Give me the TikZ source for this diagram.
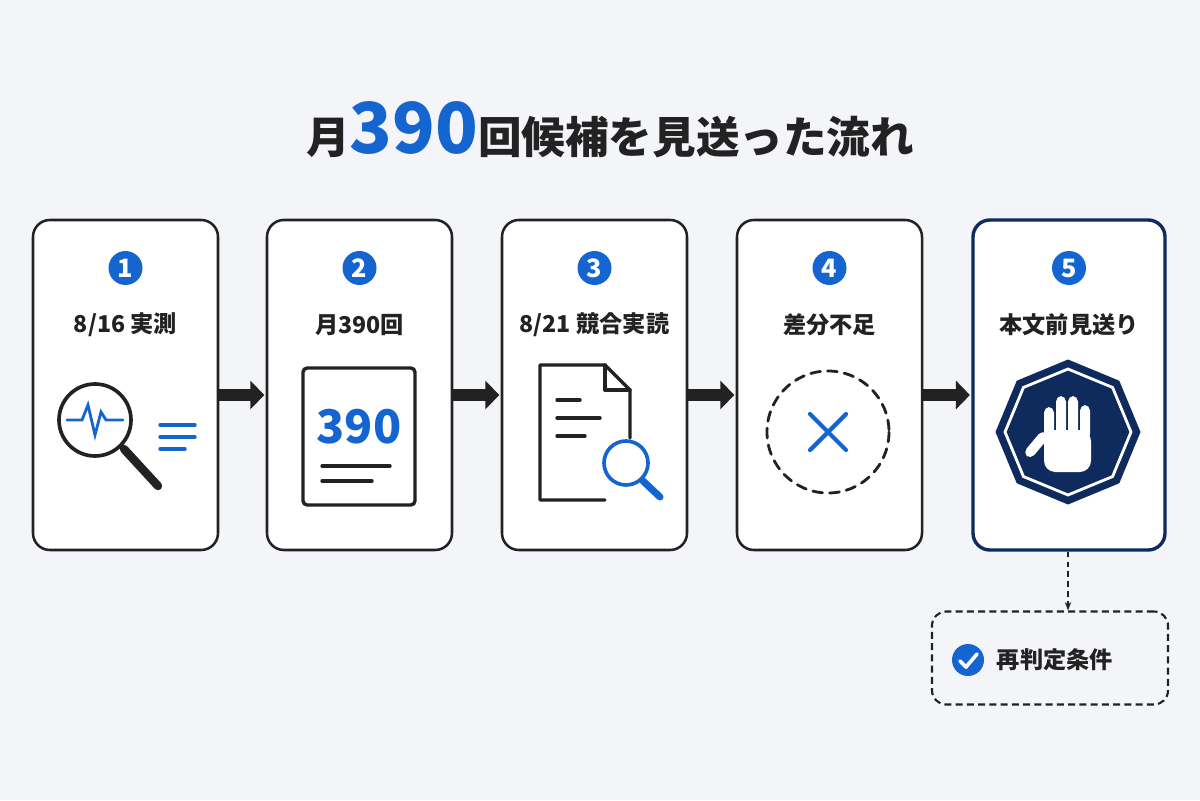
\documentclass[tikz,border=0pt]{standalone}
\usepackage{fontspec}
\setmainfont{Noto Sans CJK JP}
\usetikzlibrary{shapes.geometric,arrows.meta}
\definecolor{accent}{HTML}{1565D0}
\definecolor{navy}{HTML}{0F2A5C}
\definecolor{ink}{HTML}{222222}
\definecolor{paper}{HTML}{F4F5F9}
\begin{document}
\begin{tikzpicture}[x=0.025cm,y=-0.025cm,
    stage/.style={draw=ink, line width=1.8pt, rounded corners=12pt, fill=white,
                 minimum width=185*0.025cm, minimum height=330*0.025cm},
    badge/.style={circle, fill=accent, text=white, font=\fontsize{18}{18}\selectfont\bfseries,
                  minimum size=34*0.025cm, inner sep=0pt},
    caption/.style={font=\fontsize{16.5}{18}\selectfont\bfseries, text=ink},
    icon/.style={line width=2pt, ink, line cap=round},
    blueline/.style={line width=2pt, accent, line cap=round},
    flow/.style={-{Triangle[length=10pt,width=20pt]}, line width=9pt, ink}]
  % Background.
  \fill [paper] (0,0) rectangle (1200,800);

  % Title.
  \node (title) at (610,130) {\fontsize{31}{36}\selectfont\bfseries\color{ink}月{\fontsize{50}{50}\selectfont\color{accent}390}回候補を見送った流れ};

  % Stages.
  \node [stage] (stage1) at (125.5,385) {};
  \node [stage] (stage2) at (359.5,385) {};
  \node [stage] (stage3) at (594.5,385) {};
  \node [stage] (stage4) at (829.5,385) {};
  \node [stage, draw=navy, line width=2.4pt, minimum width=192*0.025cm] (stage5) at (1069,385) {};

  \foreach \i/\x/\t in {1/125.5/{8/16 実測}, 2/359.5/{月390回}, 3/594.5/{8/21 競合実読},
                        4/829.5/{差分不足}, 5/1069/{本文前見送り}} {
    \node [badge] (badge\i) at (\x,268) {\i};
    \node [caption] (caption\i) at (\x,325) {\t};
  }

  % Arrows between stages.
  \foreach \a/\b in {1/2, 2/3, 3/4, 4/5}
    \draw [flow] ([yshift=-10*0.025cm]stage\a.east) -- ([xshift=-1pt,yshift=-10*0.025cm]stage\b.west);

  % Icon 1: magnifier with pulse.
  \draw [icon, line width=2.6pt] (95,420) circle (36);
  \draw [icon, line width=6pt] (124,449) -- (158,486);
  \draw [blueline] (67,420) -- (82,420) -- (88,405) -- (95,435) -- (101,412) -- (106,420) -- (123,420);
  \foreach \y/\w in {425/195, 437/195, 449/185}
    \draw [blueline, line width=2.4pt] (160,\y) -- (\w,\y);

  % Icon 2: document with number.
  \draw [icon, line width=2.4pt, rounded corners=3pt] (303,368) rectangle (415,505);
  \node (num) at (359,427) {\fontsize{33}{33}\selectfont\bfseries\color{accent}390};
  \draw [icon, line width=2.4pt] (322,466) -- (390,466);
  \draw [icon, line width=2.4pt] (322,481) -- (372,481);

  % Icon 3: page with magnifier.
  \draw [icon, line width=2.4pt, line join=round] (605,500) -- (540,500) -- (540,365) -- (605,365) -- (630,390) -- (630,438);
  \draw [icon, line width=2.4pt, line join=round] (605,365) -- (605,390) -- (630,390);
  \foreach \y/\w in {400/580, 418/600, 436/585}
    \draw [icon, line width=2.4pt] (557,\y) -- (\w,\y);
  \draw [blueline, line width=2.6pt] (626,463) circle (22);
  \draw [blueline, line width=5pt] (643,481) -- (660,497);

  % Icon 4: dashed circle with cross.
  \draw [icon, dash pattern=on 7pt off 5pt] (828,432) circle (61);
  \draw [blueline, line width=3pt] (810,414) -- (846,450) (846,414) -- (810,450);

  % Icon 5: stop sign with hand.
  \node [regular polygon, regular polygon sides=8, fill=navy, minimum size=145*0.025cm, inner sep=0pt,
         shape border rotate=22.5] (stop) at (1068,432) {};
  \node [regular polygon, regular polygon sides=8, draw=white, line width=2pt, minimum size=126*0.025cm,
         inner sep=0pt, shape border rotate=22.5] (stopin) at (1068,432) {};
  \foreach \fx/\top in {1049/407, 1061/396, 1073/396, 1085/405}
    \fill [white, rounded corners=4pt] (\fx-5,\top) rectangle (\fx+5,440);
  \fill [white, rounded corners=8pt] (1044,430) rectangle (1091,472);
  \fill [white, rounded corners=4pt, rotate around={-40:(1040,445)}] (1032,432) rectangle (1042,462);

  % Follow-up condition.
  \node [draw=ink, line width=1.5pt, dash pattern=on 5pt off 3pt, rounded corners=10pt,
         minimum width=236*0.025cm, minimum height=93*0.025cm] (recheck) at (1050,658) {};
  \draw [-{Stealth[length=6pt]}, line width=1.4pt, ink, dash pattern=on 4pt off 3pt]
        ([xshift=-1*0.025cm]stage5.south) -- ([xshift=18*0.025cm]recheck.north);
  \node [circle, fill=accent, minimum size=32*0.025cm, inner sep=0pt] (tick) at (968,660) {};
  \draw [white, line width=2.6pt, line cap=round, line join=round] (960,661) -- (966,667) -- (977,654);
  \node [caption, anchor=west] (recheckText) at (992,660) {再判定条件};
\end{tikzpicture}
\end{document}
